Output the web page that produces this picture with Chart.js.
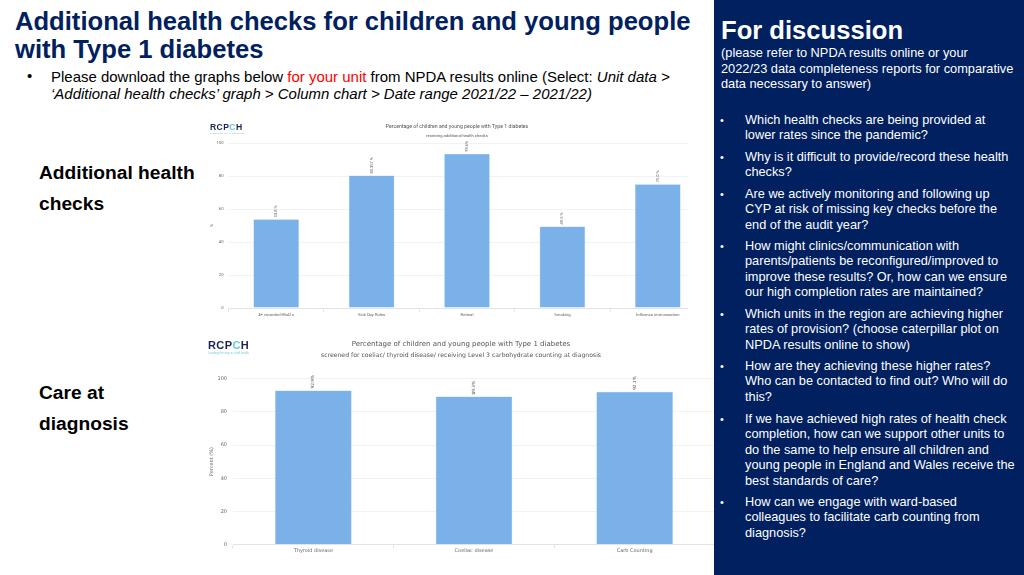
<!DOCTYPE html>
<html>
<head>
<meta charset="utf-8">
<title>Additional health checks</title>
<script src="https://cdn.jsdelivr.net/npm/chart.js@4"></script>
<style>
html, body { margin: 0; padding: 0; background: #fff; overflow: hidden; }
body { width: 1024px; height: 575px; position: relative; font-family: "Liberation Sans", sans-serif; color: #000; }
.abs { position: absolute; white-space: nowrap; }
h1 { position: absolute; left: 15px; top: 7px; margin: 0; font-size: 25.6px; line-height: 28px; color: #002060; white-space: nowrap; }
.intro { left: 51px; top: 68px; font-size: 14.97px; line-height: 17px; }
.dot { left: 27px; top: 68px; font-size: 14.9px; line-height: 17px; }
.red { color: #f00; }
.side { font-weight: bold; font-size: 19.2px; left: 39px; }
canvas { position: absolute; filter: blur(0.5px); }
#chart1 { left: 200px; top: 115px; clip-path: inset(0 26px 0 0); }
#chart2 { left: 200px; top: 330px; }
.logo { position: absolute; font-weight: bold; color: #1d2452; letter-spacing: 0.4px; }
.logo b { color: #69c9d8; }
.logo small { display: block; font-weight: normal; color: #7fcbd8; letter-spacing: 0; white-space: nowrap; }
#panel { position: absolute; left: 714px; top: 0; width: 310px; height: 575px; background: #002060; color: #fff; z-index: 2; }
#panel div { position: absolute; white-space: nowrap; }
.q { left: 31px; font-size: 12.75px; line-height: 15.45px; }
.b { left: 6px; font-size: 11px; line-height: 15.45px; }
</style>
</head>
<body>
<h1>Additional health checks for children and young people<br>with Type 1 diabetes</h1>
<div class="abs dot">•</div>
<div class="abs intro">Please download the graphs below <span class="red">for your unit</span> from NPDA results online (Select: <i>Unit data &gt;</i><br><i>‘Additional health checks’ graph &gt; Column chart &gt; Date range 2021/22 – 2021/22)</i></div>
<div class="abs side" style="top:162px">Additional health</div>
<div class="abs side" style="top:193px">checks</div>
<div class="abs side" style="top:382px">Care at</div>
<div class="abs side" style="top:413px">diagnosis</div>

<canvas id="chart1" width="514" height="210"></canvas>
<canvas id="chart2" width="522" height="230"></canvas>

<div class="logo" style="left:210px;top:122px;font-size:8.6px;line-height:10px">RCP<b>C</b>H<small style="font-size:2.5px;line-height:3px">Leading the way in child health</small></div>
<div class="logo" style="left:208px;top:339px;font-size:11px;line-height:12px">RCP<b>C</b>H<small style="font-size:3px;line-height:4px">Leading the way in child health</small></div>

<div id="panel">
  <div style="left:7px;top:15px;font-size:25.6px;line-height:30px;font-weight:bold">For discussion</div>
  <div style="left:7px;top:45px;font-size:12.8px;line-height:15.5px">(please refer to NPDA results online or your<br>2022/23 data completeness reports for comparative<br>data necessary to answer)</div>
  <div class="b" style="top:113px">•</div>
  <div class="q" style="top:112px">Which health checks are being provided at<br>lower rates since the pandemic?</div>
  <div class="b" style="top:150px">•</div>
  <div class="q" style="top:149px">Why is it difficult to provide/record these health<br>checks?</div>
  <div class="b" style="top:187px">•</div>
  <div class="q" style="top:186px">Are we actively monitoring and following up<br>CYP at risk of missing key checks before the<br>end of the audit year?</div>
  <div class="b" style="top:239px">•</div>
  <div class="q" style="top:238px">How might clinics/communication with<br>parents/patients be reconfigured/improved to<br>improve these results? Or, how can we ensure<br>our high completion rates are maintained?</div>
  <div class="b" style="top:307px">•</div>
  <div class="q" style="top:306px">Which units in the region are achieving higher<br>rates of provision? (choose caterpillar plot on<br>NPDA results online to show)</div>
  <div class="b" style="top:359px">•</div>
  <div class="q" style="top:358px">How are they achieving these higher rates?<br>Who can be contacted to find out? Who will do<br>this?</div>
  <div class="b" style="top:412px">•</div>
  <div class="q" style="top:411px">If we have achieved high rates of health check<br>completion, how can we support other units to<br>do the same to help ensure all children and<br>young people in England and Wales receive the<br>best standards of care?</div>
  <div class="b" style="top:495px">•</div>
  <div class="q" style="top:494px">How can we engage with ward-based<br>colleagues to facilitate carb counting from<br>diagnosis?</div>
</div>

<script>
const checkLabels = ["4+ recorded HbA1c", "Sick Day Rules", "Retinal", "Smoking", "Influenza immunisation"];
const checkValues = [53.8, 80.4, 93.6, 49.5, 75.0];
const checkValueText = ["53.8 %", "80.357 %", "93.6%", "49.5 %", "75.0 %"];

const diagnosisLabels = ["Thyroid disease", "Coeliac disease", "Carb Counting"];
const diagnosisValues = [92.9, 89.3, 92.1];
const diagnosisValueText = ["92.9%", "89.3%", "92.1%"];

const yTicks = [0, 20, 40, 60, 80, 100];

// rotated value labels above each bar
const valueLabels = {
  id: "valueLabels",
  afterDatasetsDraw(chart, args, opts) {
    const ctx = chart.ctx;
    chart.getDatasetMeta(0).data.forEach((bar, i) => {
      ctx.save();
      ctx.translate(bar.x, bar.y - 2);
      ctx.rotate(-Math.PI / 2);
      ctx.font = opts.size + "px " + opts.family;
      ctx.fillStyle = "#555";
      ctx.textAlign = "left";
      ctx.textBaseline = "middle";
      ctx.fillText(opts.text[i], 0, 0);
      ctx.restore();
    });
  },
};

function drawChart(id, cfg) {
  new Chart(document.getElementById(id).getContext("2d"), {
    type: "bar",
    data: {
      labels: cfg.labels,
      datasets: [
        {
          data: cfg.values,
          backgroundColor: "#7ab1e8",
          borderColor: "#a9cdf0",
          borderWidth: 0.5,
          categoryPercentage: 1,
          barPercentage: cfg.barWidth,
        },
      ],
    },
    plugins: [valueLabels],
    options: {
      responsive: false,
      animation: false,
      layout: { padding: { bottom: cfg.bottom, left: 0, top: 0, right: 0 } },
      plugins: {
        legend: { display: false },
        tooltip: { enabled: false },
        title: {
          display: true,
          text: "Percentage of children and young people with Type 1 diabetes",
          color: "#555",
          font: { family: cfg.family, size: cfg.titleSize, weight: "normal" },
          padding: cfg.titlePad,
        },
        subtitle: {
          display: true,
          text: cfg.subtitle,
          color: "#555",
          font: { family: cfg.family, size: cfg.subSize, weight: "normal" },
          padding: cfg.subPad,
        },
        valueLabels: { text: cfg.valueText, size: cfg.labelSize, family: cfg.family },
      },
      scales: {
        x: {
          afterFit: (s) => { s.height = 14; },
          grid: { drawOnChartArea: false, tickLength: 4, color: "#e4e6ea" },
          border: { color: "#dfe3ea", width: 1 },
          ticks: {
            color: "#666",
            font: { family: cfg.family, size: cfg.tickSize },
            padding: cfg.xTickPad,
            maxRotation: 0,
            autoSkip: false,
          },
        },
        y: {
          min: 0,
          max: 100,
          afterFit: (s) => { s.width = cfg.axisWidth; },
          afterBuildTicks: (s) => { s.ticks = yTicks.map((v) => ({ value: v })); },
          grid: { color: "#f1f2f4", drawTicks: false },
          border: { display: false },
          title: {
            display: true,
            text: cfg.yTitle,
            color: "#666",
            font: { family: cfg.family, size: cfg.tickSize },
            padding: { top: cfg.yTitlePad, bottom: 0 },
          },
          ticks: { color: "#666", font: { family: cfg.family, size: cfg.tickSize }, padding: cfg.tickPad },
        },
        // empty axis that only reserves room on the right, so the titles stay centred on the full canvas
        spacer: {
          position: "right",
          afterFit: (s) => { s.width = cfg.right; },
          grid: { display: false },
          border: { display: false },
          ticks: { display: false },
        },
      },
    },
  });
}

drawChart("chart1", {
  labels: checkLabels,
  values: checkValues,
  valueText: checkValueText,
  barWidth: 0.478,
  family: "Roboto",
  titleSize: 5.2,
  subSize: 4.1,
  tickSize: 4.2,
  labelSize: 4,
  subtitle: "receiving additional health checks",
  titlePad: { top: 9, bottom: 1 },
  subPad: { top: 2, bottom: 5 },
  yTitle: "%",
  yTitlePad: 9,
  tickPad: 5,
  xTickPad: 0,
  axisWidth: 28.5,
  right: 8.5,
  bottom: 3,
});

drawChart("chart2", {
  labels: diagnosisLabels,
  values: diagnosisValues,
  valueText: diagnosisValueText,
  barWidth: 0.477,
  family: "DejaVu Sans",
  titleSize: 7,
  subSize: 6.15,
  tickSize: 5,
  labelSize: 4.3,
  subtitle: "screened for coeliac/ thyroid disease/ receiving Level 3 carbohydrate counting at diagnosis",
  titlePad: { top: 10, bottom: 2 },
  subPad: { top: 1, bottom: 20 },
  yTitle: "Percent (%)",
  yTitlePad: 9,
  tickPad: 6,
  xTickPad: -1,
  axisWidth: 33,
  right: 7,
  bottom: 1.5,
});
</script>
</body>
</html>
